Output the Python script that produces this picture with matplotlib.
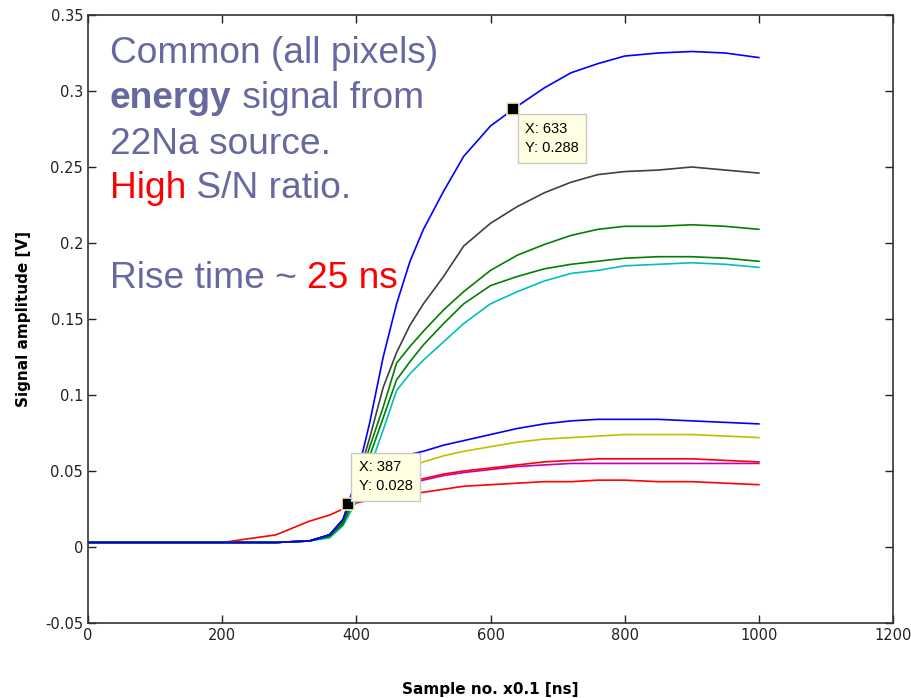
import matplotlib
matplotlib.use("Agg")
import matplotlib.pyplot as plt
from matplotlib.ticker import FormatStrFormatter

samples = [0, 100, 200, 280, 330, 360, 380, 400, 420, 440, 460, 480, 500,
           530, 560, 600, 640, 680, 720, 760, 800, 850, 900, 950, 1000]

blue_big = [0.003, 0.003, 0.003, 0.003, 0.004, 0.008, 0.018, 0.045, 0.082, 0.125, 0.160, 0.188, 0.209,
            0.234, 0.257, 0.277, 0.290, 0.302, 0.312, 0.318, 0.323, 0.325, 0.326, 0.325, 0.322]
gray = [0.003, 0.003, 0.003, 0.003, 0.004, 0.008, 0.018, 0.042, 0.072, 0.105, 0.128, 0.146, 0.160,
        0.178, 0.198, 0.213, 0.224, 0.233, 0.240, 0.245, 0.247, 0.248, 0.250, 0.248, 0.246]
green_hi = [0.003, 0.003, 0.003, 0.003, 0.004, 0.007, 0.016, 0.038, 0.066, 0.092, 0.121, 0.132, 0.142,
            0.156, 0.168, 0.182, 0.192, 0.199, 0.205, 0.209, 0.211, 0.211, 0.212, 0.211, 0.209]
green_lo = [0.003, 0.003, 0.003, 0.003, 0.004, 0.007, 0.015, 0.035, 0.060, 0.085, 0.110, 0.122, 0.133,
            0.147, 0.160, 0.172, 0.178, 0.183, 0.186, 0.188, 0.190, 0.191, 0.191, 0.190, 0.188]
cyan = [0.003, 0.003, 0.003, 0.003, 0.004, 0.006, 0.014, 0.030, 0.052, 0.077, 0.103, 0.114, 0.123,
        0.135, 0.147, 0.160, 0.168, 0.175, 0.180, 0.182, 0.185, 0.186, 0.187, 0.186, 0.184]
blue_small = [0.003, 0.003, 0.003, 0.003, 0.004, 0.008, 0.018, 0.035, 0.048, 0.055, 0.058, 0.061, 0.063,
              0.067, 0.070, 0.074, 0.078, 0.081, 0.083, 0.084, 0.084, 0.084, 0.083, 0.082, 0.081]
olive = [0.003, 0.003, 0.003, 0.003, 0.004, 0.007, 0.016, 0.032, 0.042, 0.047, 0.050, 0.053, 0.056,
         0.060, 0.063, 0.066, 0.069, 0.071, 0.072, 0.073, 0.074, 0.074, 0.074, 0.073, 0.072]
red_hi = [0.003, 0.003, 0.003, 0.003, 0.004, 0.008, 0.017, 0.030, 0.036, 0.039, 0.041, 0.043, 0.045,
          0.048, 0.050, 0.052, 0.054, 0.056, 0.057, 0.058, 0.058, 0.058, 0.058, 0.057, 0.056]
magenta = [0.003, 0.003, 0.003, 0.003, 0.004, 0.008, 0.017, 0.030, 0.035, 0.038, 0.040, 0.042, 0.044,
           0.047, 0.049, 0.051, 0.053, 0.054, 0.055, 0.055, 0.055, 0.055, 0.055, 0.055, 0.055]
red_lo = [0.003, 0.003, 0.003, 0.008, 0.017, 0.021, 0.025, 0.029, 0.031, 0.033, 0.034, 0.035, 0.036,
          0.038, 0.040, 0.041, 0.042, 0.043, 0.043, 0.044, 0.044, 0.043, 0.043, 0.042, 0.041]

traces = [(red_lo, '#ff0000'), (magenta, '#bf00bf'), (red_hi, '#ff0000'), (olive, '#bfbf00'),
          (blue_small, '#0000ff'), (cyan, '#00bfbf'), (green_lo, '#008000'), (green_hi, '#008000'),
          (gray, '#404040'), (blue_big, '#0000ff')]

tip_x = [387, 633]
tip_y = [0.028, 0.288]

fig = plt.figure(figsize=(9.12, 6.98), dpi=100)
ax = fig.add_axes([0.0965, 0.1074, 0.8827, 0.8711])

for ys, c in traces:
    ax.plot(samples, ys, color=c, lw=1.2)

# data tips
for tx, ty, off in zip(tip_x, tip_y, [(8, 8), (9, -9)]):
    ax.plot(tx, ty, 's', color='black', ms=8, mec='#f0f0c0', mew=1.2, zorder=5)
    ax.annotate("X: %d\nY: %g" % (tx, ty), (tx, ty), xytext=off, textcoords='offset points',
                va='bottom' if off[1] > 0 else 'top', ha='left', fontsize=10.5,
                family=['Liberation Sans', 'DejaVu Sans'], linespacing=1.5, zorder=6,
                bbox=dict(boxstyle='square,pad=0.5', fc='#ffffe1', ec='#c8c8c8', lw=1))

ax.set_xlim(0, 1200)
ax.set_ylim(-0.05, 0.35)
ax.set_xticks(range(0, 1201, 200))
ax.set_yticks([-0.05, 0, 0.05, 0.1, 0.15, 0.2, 0.25, 0.3, 0.35])
ax.yaxis.set_major_formatter(FormatStrFormatter('%g'))
ax.tick_params(direction='in', top=True, right=True, length=6, width=1, labelsize=10.5, colors='#222222')
for s in ax.spines.values():
    s.set_linewidth(1.2)
    s.set_color('#333333')

ax.set_xlabel("Sample no. x0.1 [ns]", fontsize=11, fontweight='bold', labelpad=28)
ax.set_ylabel("Signal amplitude [V]", fontsize=11, fontweight='bold', labelpad=10)

# overlay text
slate = '#6868a0'
fnt = ['Liberation Sans', 'DejaVu Sans']
fs = 26.7
lines = [
    [("Common (all pixels)", slate, 'normal')],
    [("energy", slate, 'bold'), (" signal from", slate, 'normal')],
    [("22Na source.", slate, 'normal')],
    [("High", '#ff0000', 'normal'), (" S/N ratio.", slate, 'normal')],
    [("Rise time ~ ", slate, 'normal'), ("25 ns", '#ff0000', 'normal')],
]
base_y = [63, 108, 154, 198, 288]
for parts, by in zip(lines, base_y):
    t = fig.text(110 / 912, 1 - by / 698, parts[0][0], color=parts[0][1], fontweight=parts[0][2],
                 fontsize=fs, family=fnt, va='baseline')
    for txt, c, w in parts[1:]:
        t = ax.annotate(txt, xy=(1, 0), xycoords=t, va='bottom', ha='left', color=c,
                        fontweight=w, fontsize=fs, family=fnt)

fig.savefig("out.png", dpi=100)
